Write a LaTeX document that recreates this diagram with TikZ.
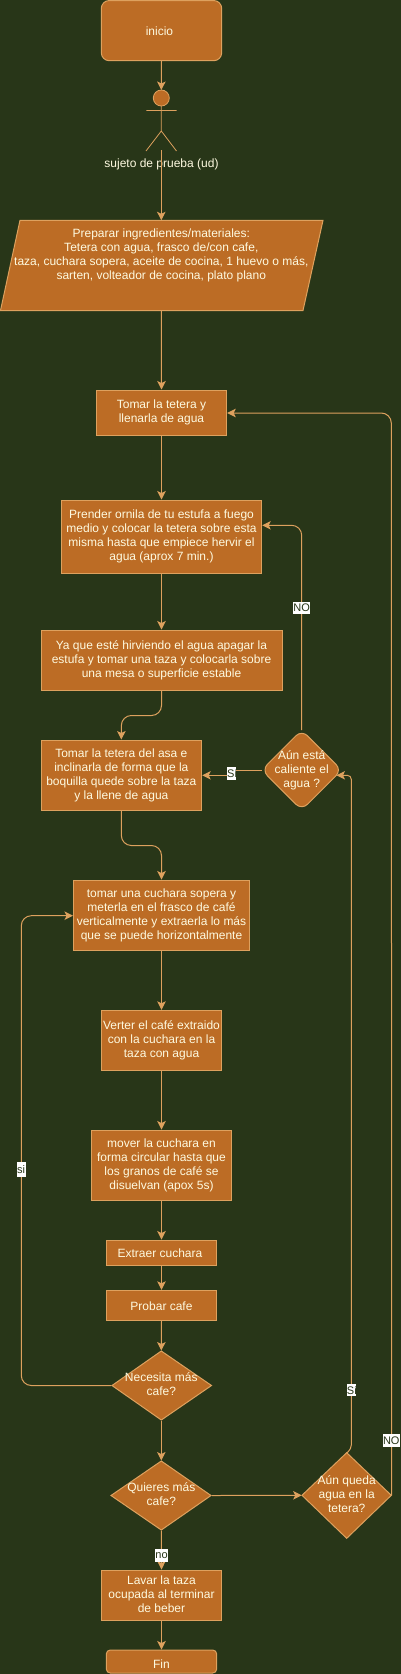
\documentclass[tikz,border=0pt]{standalone}
\usepackage{fontspec}
\setmainfont{Liberation Sans}
\usetikzlibrary{arrows.meta,shapes.geometric}
\definecolor{bgc}{HTML}{283618}
\definecolor{fillc}{HTML}{BC6C25}
\definecolor{linec}{HTML}{DDA15E}
\definecolor{textc}{HTML}{FEFAE0}
\tikzset{
  shapebase/.style={fill=fillc,draw=linec,line width=1pt,text=textc,align=center,inner sep=0pt,font=\fontsize{12pt}{14pt}\selectfont,
    execute at begin node={\rule{0pt}{12pt}},execute at end node={\rule[-2pt]{0pt}{2pt}}},
  procbox/.style={shapebase,rectangle},
  endbox/.style={shapebase,rectangle,rounded corners=#1},
  textonly/.style={shapebase,fill=none,draw=none},
  edge/.style={draw=linec,line width=1pt,-{Stealth[length=8.5pt,width=8.5pt,inset=2pt]}},
  edgelabel/.style={fill=white,text=bgc,inner sep=0pt,font=\fontsize{11pt}{13pt}\selectfont,minimum height=12.5pt},
  figure/.style={draw=linec,line width=0.8pt},
  outline/.style={fill=fillc,draw=linec,line width=1pt},
}
\newcommand{\boxat}[7][procbox]{% style, name, x1,y1,x2,y2, text
  \node[#1,minimum width=#5-#3,minimum height=#6-#4] (#2) at ({(#3+#5)/2},{(#4+#6)/2}) {#7};}
\newcommand{\lefttext}[2]{\makebox[#1][l]{#2}}
\begin{document}
\begin{tikzpicture}[x=1pt,y=-1pt]
\useasboundingbox (0,0) rectangle (401,1674);
\fill[bgc] (0,0) rectangle (401,1674);

\boxat[endbox=8pt]{inicio}{101.3}{0.5}{221.7}{60.7}{inicio\hspace{4pt}}

% actor
\fill[fillc,draw=linec,line width=0.8pt] (161.3,98) circle (8);
\coordinate (head) at (161.3,90);
\coordinate (feet) at (161.3,150);
\draw[figure] (161.3,106) -- (161.3,131) (146.3,110.5) -- (176.5,110.5)
  (146,151) -- (161.3,131) -- (176.5,151);
\node[text=textc,inner sep=0pt,font=\fontsize{12pt}{14pt}\selectfont] (actorlabel) at (161.5,164.5) {sujeto de prueba (ud)};

\fill[outline] (20,220.3) -- (323,220.3) -- (303,310.5) -- (0.5,310.5) -- cycle;
\node[textonly,minimum width=280pt,minimum height=70pt,anchor=north] (prep) at (161.3,220.3) {Preparar ingredientes/materiales:\\Tetera con agua, frasco de/con cafe,\\taza, cuchara sopera, aceite de cocina, 1 huevo o más,\\sarten, volteador de cocina, plato plano};
\coordinate (prepout) at (161.3,310.5);

\boxat{llenar}{96.3}{390}{226.7}{435.7}{Tomar la tetera y\\llenarla de agua}
\boxat{prender}{61.3}{500}{261.7}{573}{Prender ornila de tu estufa a fuego\\medio y colocar la tetera sobre esta\\misma hasta que empiece hervir el\\agua (aprox 7 min.)}
\boxat{hervir}{41}{630}{282}{690.5}{Ya que esté hirviendo el agua apagar la\\estufa y tomar una taza y colocarla sobre\\una mesa o superficie estable}
\boxat{tetera}{41}{740}{201.7}{810}{Tomar la tetera del asa e\\inclinarla de forma que la\\boquilla quede sobre la taza\\y la llene de agua}
\boxat{cuchara}{73.5}{880}{249.5}{950.5}{tomar una cuchara sopera y\\meterla en el frasco de café\\verticalmente y extraerla lo más\\que se puede horizontalmente\hspace{4pt}}
\boxat{verter}{101.3}{1010.3}{221.7}{1070.3}{Verter el café extraido\\con la cuchara en la\\taza con agua}
\boxat{mover}{91.3}{1130}{231.7}{1200}{mover la cuchara en\\forma circular hasta que\\los granos de café se\\disuelvan (apox 5s)}
\boxat{extraer}{106.3}{1240}{216.7}{1265.7}{Extraer cuchara\hspace{3pt}}
\boxat{probar}{106.3}{1290.3}{216.7}{1320.7}{Probar cafe}
\boxat{lavar}{101.3}{1570}{221.7}{1620.7}{Lavar la taza\\ocupada al terminar\\de beber}
\boxat[endbox=4pt]{fin}{106.3}{1650}{216.7}{1673}{\raisebox{-2pt}{Fin}}

% diamonds
\fill[outline,rounded corners=8pt] (301.7,730) -- (341.7,770) -- (301.7,810) -- (261.7,770) -- cycle;
\node[textonly,minimum width=74pt,minimum height=74pt] (caliente) at (301.7,770.5) {Aún está\\caliente el\\agua ?};
\fill[outline] (161.3,1351) -- (211.5,1385.5) -- (161.3,1420) -- (112,1385.5) -- cycle;
\node[textonly,minimum width=99pt,minimum height=69pt] (necesita) at (161.3,1385.5) {Necesita más\\cafe?};
\fill[outline] (161.3,1461) -- (211,1495.5) -- (161.3,1530) -- (111,1495.5) -- cycle;
\node[textonly,minimum width=100pt,minimum height=69pt] (quieres) at (161.3,1495.5) {Quieres más\\cafe?};
\fill[outline] (346.7,1452.7) -- (391.3,1495.3) -- (346.7,1538.3) -- (302,1495.3) -- cycle;
\node[textonly,minimum width=89pt,minimum height=85pt] (queda) at (346.7,1495.3) {Aún queda\\agua en la\\tetera?};

% connectors
\draw[edge] (inicio.south) -- (head);
\draw[edge] (feet) -- (prep.north);
\draw[edge] (prepout) -- (llenar.north);
\draw[edge] (llenar.south) -- (prender.north);
\draw[edge] (prender.south) -- (hervir.north);
\draw[edge,rounded corners=10pt] (hervir.south) -- ++(0,24.5) -| (tetera.north);
\draw[edge,rounded corners=10pt] (tetera.south) -- ++(0,35) -| (cuchara.north);
\draw[edge] (cuchara.south) -- (verter.north);
\draw[edge] (verter.south) -- (mover.north);
\draw[edge] (mover.south) -- (extraer.north);
\draw[edge] (extraer.south) -- (probar.north);
\draw[edge] (probar.south) -- (necesita.north);
\draw[edge] (necesita.south) -- (quieres.north);
\draw[edge] (quieres.east) -- (queda.west);
\draw[edge] (quieres.south) -- (lavar.north);
\draw[edge] (lavar.south) -- (fin.north);

\coordinate (nosrc) at (301.7,730);
\coordinate (nodst) at (prender.east |- 0,525.3);
\draw[edge,rounded corners=10pt] (nosrc) |- (nodst);
\coordinate (sisrc) at (261.7,770.3);
\coordinate (sidst) at (tetera.east |- 0,775.3);
\draw[edge] (sisrc) -- (231,770.3) -- (231,775.3) -- (sidst);
\coordinate (qsrc) at (346.7,1453);
\coordinate (qdst) at (336.5,775.3);
\draw[edge,rounded corners=4pt] (qsrc) -- (351.3,1449) -- (351.3,775.3) -- (qdst);
\coordinate (ndst) at (llenar.east |- 0,413);
\draw[edge,rounded corners=10pt] (queda.east) -- (391.3,413) -- (ndst);
\coordinate (ldst) at (cuchara.west |- 0,915.7);
\draw[edge,rounded corners=10pt] (necesita.west) -- (21.3,1385.5) -- (21.3,915.7) -- (ldst);

% edge labels
\node[edgelabel,minimum width=17pt] (lno1) at (301.7,608) {NO};
\node[edgelabel] (lsi1) at (231.4,773.4) {\lefttext{8.6pt}{Sí}};
\node[edgelabel,minimum height=14.5pt] (lsi2) at (21.5,1169.5) {\lefttext{8.8pt}{si}};
\node[edgelabel] (lsi3) at (351.3,1390) {\lefttext{8.8pt}{Sí}};
\node[edgelabel,minimum width=17pt] (lno2) at (391.3,1440.3) {NO};
\node[edgelabel,minimum width=12.4pt] (lno3) at (161.5,1555.3) {no};
\end{tikzpicture}
\end{document}
